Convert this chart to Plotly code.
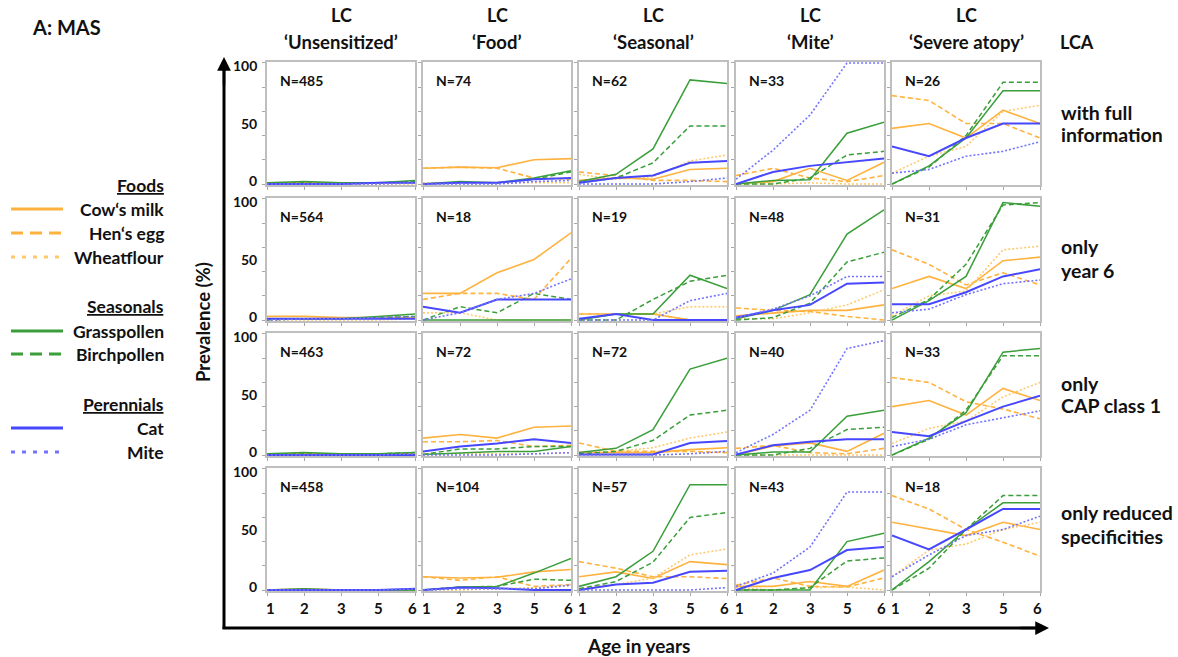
import plotly.graph_objects as go

W, H = 1178, 657

# ---------------- data ----------------
ages = ["1", "2", "3", "5", "6"]
class_names = ["‘Unsensitized’", "‘Food’", "‘Seasonal’", "‘Mite’", "‘Severe atopy’"]
analysis_lines = [["with full", "information"], ["only", "year 6"],
                  ["only", "CAP class 1"], ["only reduced", "specificities"]]
n_sizes = [[485, 74, 62, 33, 26],
           [564, 18, 19, 48, 31],
           [463, 72, 72, 40, 33],
           [458, 104, 57, 43, 18]]
y_tick_values = [0, 50, 100]

# each list: rows (analysis) x columns (latent class) x ages
cows_milk = [
    [[1, 1, 1, 1, 1], [13, 14, 13.5, 20, 21], [3, 5, 4, 12, 13], [0, 2, 13, 3, 18], [46, 50, 38, 61, 50]],
    [[3, 3, 2, 2, 2], [22, 22, 39, 50, 72], [5, 5, 5, 0, 0], [3.5, 6, 8, 8, 12.5], [26, 36, 26, 49, 52]],
    [[1, 1, 1, 1, 1], [14, 17, 14, 23, 24], [2, 2, 2, 4.5, 6], [0, 7.5, 10, 3, 18], [40, 45, 33, 55, 45]],
    [[0, 1, 0, 0, 0], [11, 10, 10.5, 15, 17], [11, 15, 9.5, 23.5, 21], [3, 3, 7, 3, 16.5], [56, 50.5, 45, 56, 50]],
]
hens_egg = [
    [[1, 1, 0, 1, 1], [13, 14, 13, 5, 4], [10, 7, 3, 3, 2], [7, 13, 5, 2, 7], [73, 69, 50, 50, 38]],
    [[1, 1, 1, 2, 2], [17, 22, 22, 17, 51], [5, 5, 5, 0, 0], [10, 8, 7, 3, 0], [58, 46, 29, 39, 29]],
    [[1, 1, 0, 1, 1], [11, 11, 12, 7, 8], [10, 3, 3, 3, 2], [5.5, 8, 2, 1, 5.5], [64, 60, 44, 38, 30]],
    [[0, 0, 0, 0, 0], [11, 8, 11, 3, 4.5], [23.5, 18, 11, 11, 9.5], [4, 10, 3, 2.5, 10], [78, 67, 50, 39.5, 28]],
]
wheatflour = [
    [[0, 0, 0, 0, 0], [1, 1, 1, 1, 1], [8, 4, 6, 19, 24], [0, 0, 1, 0, 0], [9, 23, 31, 60, 65]],
    [[0, 0, 0, 0, 1], [6, 6, 0, 0, 0], [5, 5, 5, 11, 11], [1, 1, 6, 12.5, 25], [3.5, 20, 24, 58, 61]],
    [[0, 0, 0, 0, 0], [1, 1, 1, 1, 2], [2, 3, 6, 14, 19], [0, 0, 0, 0, 0], [9.5, 22, 28, 48, 60]],
    [[0, 0, 0, 0, 0], [0, 0, 1, 2, 4], [1, 4.5, 10, 29, 34], [2, 0, 2, 2.5, 0], [11, 33, 38, 50, 56]],
]
grasspollen = [
    [[1, 2, 1, 1, 3], [0, 2, 1, 5, 11], [2, 8, 29, 86, 83], [0, 3, 3.5, 42, 51], [0, 15, 38, 77, 77]],
    [[1, 1, 1, 3, 5], [0, 0, 0, 0, 0], [0, 5, 5, 37, 26], [1, 8, 21, 71, 91], [0, 16, 36, 97, 94]],
    [[1, 2, 1, 1, 2], [0.5, 2, 3, 3, 7], [2, 5.5, 21, 71, 80], [0, 2.5, 2.5, 32, 37], [0, 14, 35, 85, 88]],
    [[0, 1, 0, 0, 0], [0, 2.5, 3, 14, 26], [3, 11, 32, 87, 87], [0, 0, 0, 40, 47], [0, 23.5, 50, 72, 72]],
]
birchpollen = [
    [[0, 1, 0, 1, 2], [0, 1, 1, 4, 10], [1, 5, 17.5, 48, 48], [0, 0, 5, 24, 27], [0, 14, 40, 84, 84]],
    [[0, 1, 1, 2, 3], [0, 11, 6, 22, 17], [0, 0, 17, 32, 37], [0, 2, 14, 48, 56], [2, 17, 46, 95, 97]],
    [[0, 1, 0, 1, 2], [0.5, 5, 5, 7, 7], [1, 3, 12, 33, 37], [0, 0, 5.5, 21, 23], [0, 13, 37, 82, 82]],
    [[0, 0, 0, 0, 0], [0, 2.5, 3, 9, 8], [1, 7, 23, 60, 64], [0, 0, 2, 24, 26.5], [0, 18, 50, 78, 78]],
]
cat = [
    [[0, 0, 0, 1, 1], [0, 1, 1, 4, 5], [1, 5, 7, 17.5, 19], [0, 10, 15, 18, 21], [31, 23, 38, 50, 50]],
    [[1, 1, 1, 1, 1], [11, 6, 17, 17, 17], [1, 5, 0, 0, 0], [2, 8, 12.5, 30, 31], [13, 13, 23, 36, 42]],
    [[0, 0, 0, 0, 0], [3, 7, 9.5, 13, 10], [0.5, 0.5, 0.5, 10, 11.5], [0.5, 8, 11, 13, 13], [19, 15.5, 28, 40, 49]],
    [[0, 0, 0, 0, 1], [0, 2, 1.5, 0, 0], [0, 4.5, 6, 15, 16], [0, 10, 16.5, 33, 35.5], [45, 33.5, 50, 67, 67]],
]
mite = [
    [[0, 0, 0, 0, 1], [0, 0, 0, 2, 3], [0, 0, 0, 2, 5], [4, 28, 57, 100, 100], [9, 12, 23, 27, 35]],
    [[0, 1, 1, 2, 3], [0, 6, 17, 22, 34], [0, 0, 0, 16, 22], [2, 9, 20, 36, 36], [6, 9, 21, 30, 33]],
    [[0, 0, 0, 0, 1], [0, 0, 0, 1, 2], [0, 0, 0, 1, 3], [2, 17, 37, 88, 94.5], [7, 13, 25, 30.5, 36.5]],
    [[0, 0, 0, 0, 1], [0, 1, 1, 1, 4], [0, 0, 0, 0, 2], [3, 14, 35.5, 81, 81], [11, 29, 45, 50, 61]],
]

# ---------------- styles ----------------
ORANGE = "#FFB23E"
ORANGE_L = "#FFC868"
GREEN = "#3A9E3A"
BLUE = "#4747FF"
BLUE_L = "#7373FF"
FONT = "Lato"
TXT = "#111111"

series = [
    ("Cow‘s milk", cows_milk, ORANGE, "solid", 1.6),
    ("Hen‘s egg", hens_egg, ORANGE, "5px,3px", 1.6),
    ("Wheatflour", wheatflour, ORANGE_L, "2px,2px", 1.5),
    ("Grasspollen", grasspollen, GREEN, "solid", 1.5),
    ("Birchpollen", birchpollen, GREEN, "5px,3px", 1.5),
    ("Cat", cat, BLUE, "solid", 2.0),
    ("Mite", mite, BLUE_L, "2px,2px", 1.6),
]
legend_dash = ["solid", "12px,7px", "4px,7px", "solid", "12px,7px", "solid", "4px,7px"]

col_left = [267, 423, 579, 736, 892]
PW = 148
row_top = [62, 198, 333, 468]
PH = 123


def px(x):
    return x / W


def py(y):
    return 1 - y / H


fig = go.Figure()
layout = {}
annotations = []
n_ages = len(ages)

for r in range(4):
    for c in range(5):
        idx = r * 5 + c + 1
        sfx = "" if idx == 1 else str(idx)
        for name, arr, color, dash, lw in series:
            fig.add_trace(go.Scatter(
                x=list(range(n_ages)), y=arr[r][c], mode="lines",
                line=dict(color=color, width=lw, dash=dash),
                xaxis="x" + sfx, yaxis="y" + sfx, showlegend=False,
                hovertemplate=name + ", age %{text}: %{y}%<extra></extra>",
                text=ages))
        x0, x1 = col_left[c], col_left[c] + PW
        y0, y1 = row_top[r], row_top[r] + PH
        layout["xaxis" + sfx] = dict(
            domain=[px(x0), px(x1)], anchor="y" + sfx, range=[0, n_ages - 1],
            tickvals=list(range(n_ages)), showticklabels=False,
            ticks="outside", ticklen=3, tickcolor="#A6A6A6",
            showline=True, mirror=True, linecolor="#BFBFBF", linewidth=1.5,
            showgrid=False, zeroline=False, fixedrange=True)
        layout["yaxis" + sfx] = dict(
            domain=[py(y1), py(y0)], anchor="x" + sfx, range=[-0.8, 100.8],
            tickvals=[0, 20, 40, 60, 80, 100], showticklabels=False,
            ticks="outside", ticklen=3, tickcolor="#A6A6A6",
            showline=True, mirror=True, linecolor="#BFBFBF", linewidth=1.5,
            showgrid=False, zeroline=False, fixedrange=True)
        # y tick labels (first column), anchored at their values, nudged inward like the original
        if c == 0:
            for v in y_tick_values:
                shift = -3 if v == 100 else (4 if v == 0 else 0)
                annotations.append(dict(
                    text=str(v), xref="x%s domain" % sfx, yref="y" + sfx,
                    x=0, y=v, xshift=-8, yshift=shift, xanchor="right", yanchor="middle",
                    showarrow=False, font=dict(family=FONT, size=14, color=TXT, weight="bold")))
        # x tick labels (bottom row), anchored at their categories, end labels nudged inward
        if r == 3:
            for i, a in enumerate(ages):
                xs = 3 if i == 0 else (-3 if i == n_ages - 1 else 0)
                annotations.append(dict(
                    text=a, xref="x" + sfx, yref="y%s domain" % sfx,
                    x=i, y=0, xshift=xs, yshift=-17, xanchor="center", yanchor="middle",
                    showarrow=False, font=dict(family=FONT, size=15, color=TXT, weight="bold")))
        annotations.append(dict(
            text="N=%d" % n_sizes[r][c], xref="x%s domain" % sfx, yref="y%s domain" % sfx,
            x=11 / PW, y=1 - 18 / PH, xanchor="left", yanchor="middle", showarrow=False,
            font=dict(family=FONT, size=14, color=TXT, weight="bold")))


def ann(text, x, y, size, xanchor="center", angle=0, weight="bold"):
    annotations.append(dict(text=text, x=px(x), y=py(y), xref="paper", yref="paper",
                            xanchor=xanchor, yanchor="middle", showarrow=False,
                            textangle=angle,
                            font=dict(family=FONT, size=size, color=TXT, weight=weight)))


ann("A: MAS", 30, 27, 20, "left")
for c in range(5):
    cx = col_left[c] + PW / 2
    ann("LC", cx, 15, 18)
    ann(class_names[c], cx, 42, 18.5)
ann("LCA", 1058, 42, 18, "left")
row_label_y = [(112, 135), (247, 270), (383, 405), (512, 536)]
for r in range(4):
    for line, yy in zip(analysis_lines[r], row_label_y[r]):
        ann(line, 1059, yy, 19.5, "left")
ann("Prevalence (%)", 203, 322, 18.5, angle=-90)
ann("Age in years", 638, 645, 19)

# legend (custom)
shapes = []
legend_rows = [("<u>Foods</u>", 185), (0, 209), (1, 233), (2, 257),
               ("<u>Seasonals</u>", 307), (3, 331), (4, 354),
               ("<u>Perennials</u>", 404), (5, 428), (6, 452)]
for item, yy in legend_rows:
    if isinstance(item, str):
        ann(item, 166, yy, 17.5, "right")
    else:
        name, _, color, _, _ = series[item]
        ann(name, 166, yy, 17.5, "right")
        shapes.append(dict(type="line", xref="paper", yref="paper",
                           x0=px(11), x1=px(63), y0=py(yy), y1=py(yy),
                           line=dict(color=color, width=3, dash=legend_dash[item])))

# big axis arrows
shapes.append(dict(type="line", xref="paper", yref="paper",
                   x0=px(224), x1=px(224), y0=py(629), y1=py(66),
                   line=dict(color="black", width=3)))
shapes.append(dict(type="line", xref="paper", yref="paper",
                   x0=px(222.5), x1=px(1040), y0=py(628), y1=py(628),
                   line=dict(color="black", width=3)))
annotations.append(dict(x=px(224), y=py(57), xref="paper", yref="paper", text="",
                        showarrow=True, ax=0, ay=30, arrowhead=2, arrowsize=1.1,
                        arrowwidth=2.5, arrowcolor="black", standoff=0))
annotations.append(dict(x=px(1049), y=py(628), xref="paper", yref="paper", text="",
                        showarrow=True, ax=-30, ay=0, arrowhead=2, arrowsize=1.1,
                        arrowwidth=2.5, arrowcolor="black", standoff=0))

fig.update_layout(
    width=W, height=H, margin=dict(l=0, r=0, t=0, b=0),
    paper_bgcolor="white", plot_bgcolor="white",
    annotations=annotations, shapes=shapes, showlegend=False,
    font=dict(family=FONT, color=TXT),
    **layout)

fig.write_html("out.html")
